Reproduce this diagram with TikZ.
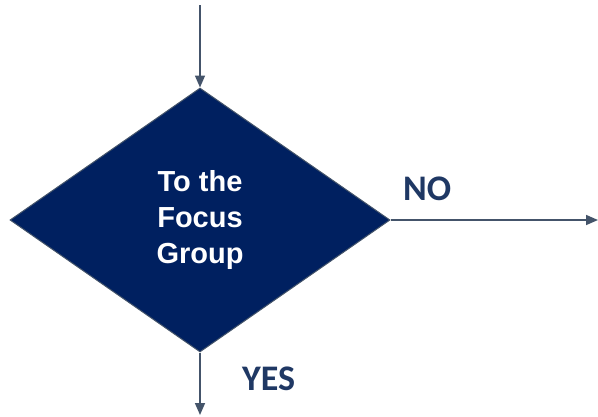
\documentclass[tikz,border=0pt]{standalone}
\usepackage{fontspec}
\setmainfont{Liberation Sans}
\newfontfamily\calfont{Carlito}
\usetikzlibrary{shapes.geometric,arrows.meta}
\definecolor{navy}{HTML}{002060}
\definecolor{edgegray}{HTML}{44546A}
\definecolor{labelblue}{HTML}{1F3864}
\begin{document}
\begin{tikzpicture}[x=1pt,y=-1pt,
  decision/.style={diamond,fill=navy,draw=edgegray,line width=1pt,inner sep=0pt,
    minimum width=380pt,minimum height=264pt,text=white,align=center,
    font=\fontsize{29}{36}\selectfont\bfseries},
  conn/.style={draw=edgegray,line width=1.6pt,-{Triangle[width=10pt,length=12pt]}},
  lbl/.style={text=labelblue,font=\calfont\fontsize{36}{40}\selectfont\bfseries,inner sep=0pt}]
\useasboundingbox (0,0) rectangle (598,416);
\node[decision] (d) at (200,220) {To the\\Focus\\Group};
\coordinate (in) at (200,5);
\coordinate (outR) at (598,220);
\coordinate (outB) at (200,415);
\draw[conn] (in) -- (d.north);
\draw[conn] (d.east) -- (outR);
\draw[conn] (d.south) -- (outB);
\node[lbl,anchor=base west] (no) at (403,200) {NO};
\node[lbl,anchor=base west] (yes) at (242,390) {YES};
\end{tikzpicture}
\end{document}
